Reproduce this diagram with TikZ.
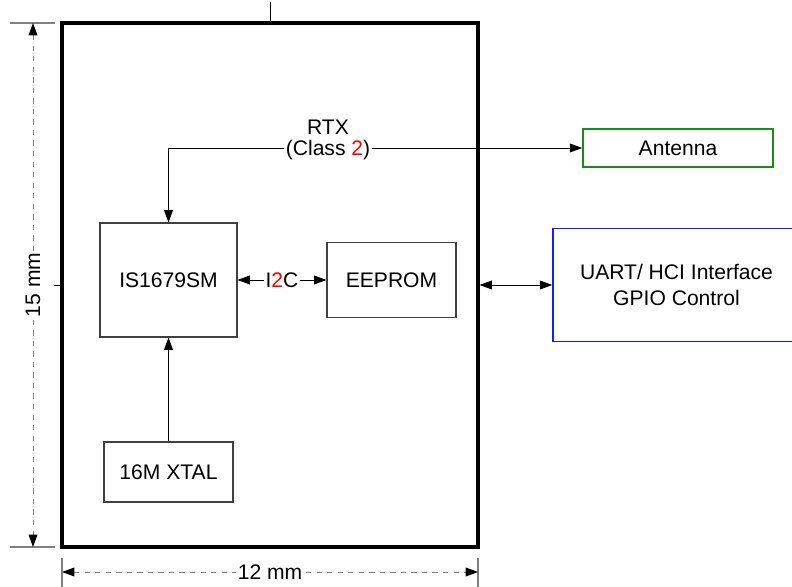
\documentclass[tikz,border=0pt]{standalone}
\usepackage{fontspec}
\setmainfont{Liberation Sans}
\usetikzlibrary{arrows.meta}
\definecolor{blockline}{HTML}{404040}
\definecolor{antline}{HTML}{1A8C1A}
\definecolor{ifline}{HTML}{1A1AFF}
\definecolor{dimline}{HTML}{808080}
\tikzset{
  block/.style={draw=blockline, line width=0.6pt, font=\fontsize{12}{14.5}\selectfont,
                align=center, inner sep=0pt},
  antblock/.style={block, draw=antline, line width=0.9pt},
  ifblock/.style={block, draw=ifline, line width=0.9pt},
  modblock/.style={draw=black, line width=1.8pt, inner sep=0pt},
  lbl/.style={font=\fontsize{12}{14.5}\selectfont, inner sep=1pt, text=black},
  sig/.style={-{Triangle[length=7pt,width=5pt]}, line width=0.5pt},
  sigboth/.style={{Triangle[length=7pt,width=5pt]}-{Triangle[length=7pt,width=5pt]}, line width=0.5pt},
  dim/.style={dashed, dimline, line width=0.5pt,
              {Triangle[length=7pt,width=5pt,black]}-{Triangle[length=7pt,width=5pt,black]}},
  extline/.style={dimline, line width=0.6pt},
}

\begin{document}
\begin{tikzpicture}[x=0.02cm, y=-0.02cm]
    \useasboundingbox (0,0) rectangle (792,587);
    \clip (0,0) rectangle (792,587);
    % module outline
    \node[modblock, minimum width=8.32cm, minimum height=10.48cm] (module) at (270,285) {};
    \draw[line width=0.5pt] (module.north) -- ++(0,-19);
    \draw[line width=0.5pt] (module.west) -- ++(-6,0);
    % blocks
    \node[block, minimum width=2.74cm, minimum height=2.28cm] (ic) at (168.5,280) {IS1679SM};
    \node[block, minimum width=2.58cm, minimum height=1.5cm] (eeprom) at (391.5,280) {EEPROM};
    \node[block, minimum width=2.58cm, minimum height=1.2cm] (xtal) at (168.5,472) {16M XTAL};
    \node[antblock, minimum width=3.8cm, minimum height=0.76cm] (ant) at (678,148) {Antenna};
    \node[ifblock, minimum width=4.94cm, minimum height=2.26cm] (uart) at (676.5,285)
         {UART/ HCI Interface\\GPIO Control};
    % signals
    \draw[sig] (xtal) -- (ic);
    \draw[sigboth] (ic) -- node[lbl, fill=white] (i2c) {I{\color{red}2}C} (eeprom);
    \draw[sigboth] (ic.north) |- (ant.west);
    \node[lbl] (rtx) at (328,127) {RTX};
    \node[lbl, fill=white] (cls) at (328,150) {(Class {\color{red}2})};
    \draw[sigboth] (module.east) -- (uart.west);
    % dimensions
    \coordinate (tl) at (10,23);
    \coordinate (bl) at (10,547);
    \draw[extline] (tl) -- (55,23);
    \draw[extline] (bl) -- (55,547);
    \draw[dim] (33,23) -- node[lbl, fill=white, rotate=90] (hdim) {15 mm} (33,547);
    \coordinate (lb) at (62,587);
    \coordinate (rb) at (478,587);
    \draw[extline] (lb) -- (62,558);
    \draw[extline] (rb) -- (478,558);
    \draw[dim] (62,572) -- node[lbl, fill=white] (wdim) {12 mm} (478,572);
\end{tikzpicture}
\end{document}
